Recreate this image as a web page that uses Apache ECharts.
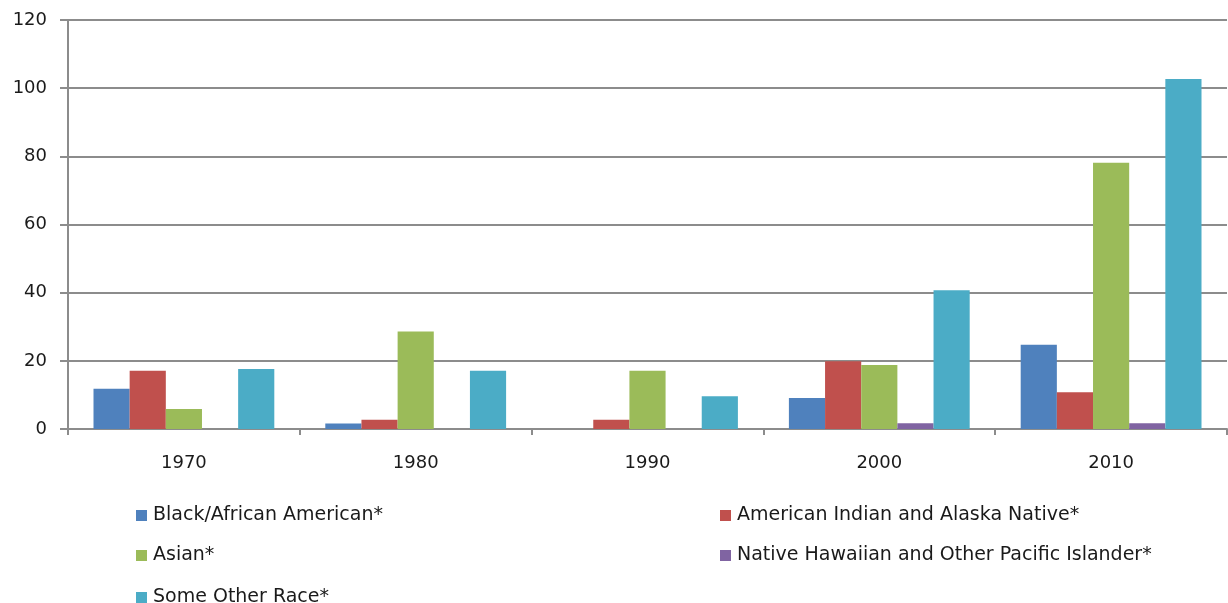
<!DOCTYPE html>
<html>
<head>
<meta charset="utf-8">
<script src="https://cdn.jsdelivr.net/npm/echarts@6/dist/echarts.min.js"></script>
<style>
  html, body { margin: 0; padding: 0; background: #fff; }
  #chart { width: 1228px; height: 603px; }
</style>
</head>
<body>
<div id="chart"></div>
<script>
// 数据
const years = ['1970', '1980', '1990', '2000', '2010'];
const seriesNames = [
  'Black/African American*',
  'American Indian and Alaska Native*',
  'Asian*',
  'Native Hawaiian and Other Pacific Islander*',
  'Some Other Race*'
];
const black = [11.8, 1.6, 0, 9.1, 24.7];
const amIndian = [17.1, 2.7, 2.7, 19.9, 10.8];
const asian = [5.9, 28.6, 17.1, 18.8, 78.1];
const hawaiian = [0, 0, 0, 1.7, 1.7];
const otherRace = [17.6, 17.1, 9.6, 40.7, 102.7];
const yTicks = [0, 20, 40, 60, 80, 100, 120];

const colors = ['#4F81BD', '#C0504D', '#9BBB59', '#8064A2', '#4BACC6'];
const values = [black, amIndian, asian, hawaiian, otherRace];
const font = 'DejaVu Sans';

// 图例位置（两列）
const legendPos = [
  { left: 131, top: 501 },
  { left: 715, top: 501 },
  { left: 131, top: 541 },
  { left: 715, top: 541 },
  { left: 131, top: 583 }
];

const chart = echarts.init(document.getElementById('chart'));
const option = {
  animation: false,
  color: colors,
  grid: { left: 68, right: 1, top: 20, bottom: 174 },
  legend: seriesNames.map((name, i) => ({
    data: [name],
    left: legendPos[i].left,
    top: legendPos[i].top,
    icon: 'rect',
    itemWidth: 11,
    itemHeight: 11,
    itemGap: 10,
    selectedMode: false,
    textStyle: { fontFamily: font, fontSize: 19, color: '#1a1a1a', padding: [0, 0, 0, 1] }
  })),
  xAxis: {
    type: 'category',
    data: years,
    axisLine: { lineStyle: { color: '#8c8c8c', width: 2 } },
    axisTick: { show: true, length: 6, lineStyle: { color: '#8c8c8c', width: 2 } },
    axisLabel: { fontFamily: font, fontSize: 18, color: '#1a1a1a', margin: 25 }
  },
  yAxis: {
    type: 'value',
    min: yTicks[0],
    max: yTicks[yTicks.length - 1],
    interval: 20,
    axisLine: { show: true, lineStyle: { color: '#8c8c8c', width: 2 } },
    axisTick: { show: true, length: 8, lineStyle: { color: '#8c8c8c', width: 2 } },
    splitLine: { lineStyle: { color: '#8c8c8c', width: 2 } },
    axisLabel: { fontFamily: font, fontSize: 18, color: '#1a1a1a', margin: 21, padding: [7, 0, 0, 0] }
  },
  series: seriesNames.map((name, i) => ({
    name: name,
    type: 'bar',
    data: values[i],
    barGap: '0%',
    barCategoryGap: '22%',
    itemStyle: { color: colors[i] }
  }))
};
chart.setOption(option);
</script>
</body>
</html>
